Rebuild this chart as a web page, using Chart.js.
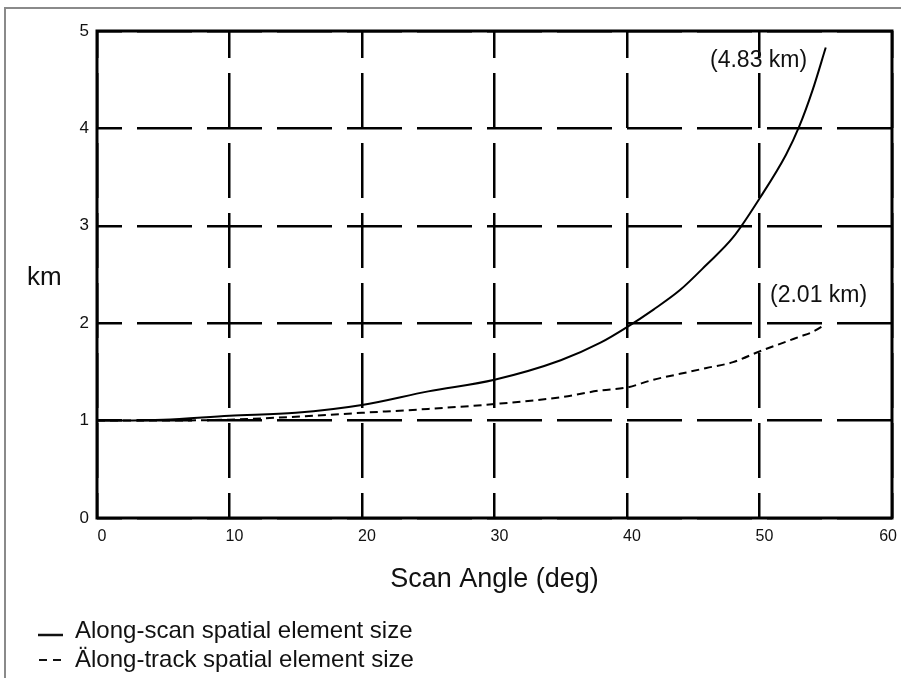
<!DOCTYPE html>
<html>
<head>
<meta charset="utf-8">
<script src="https://cdn.jsdelivr.net/npm/chart.js@4.4.1/dist/chart.umd.min.js"></script>
<style>
    html, body { margin: 0; padding: 0; background: #fff; }
    #contenedor { width: 901px; height: 678px; position: relative; }
</style>
</head>
<body>
<div id="contenedor"><canvas id="graficoEscaneo"></canvas></div>
<script>

// angulo de escaneo (grados)
const angulos = [0, 5, 10, 15, 20, 25, 30, 35, 38, 40, 42, 44, 46, 48, 50, 52, 53, 54, 55];

// tamano along-scan (km)
const alongScan = [1.00, 1.01, 1.05, 1.08, 1.16, 1.30, 1.42, 1.62, 1.80, 1.96, 2.14, 2.34, 2.60, 2.88, 3.28, 3.73, 4.02, 4.39, 4.83];

// tamano along-track (km)
const alongTrack = [1.00, 1.00, 1.01, 1.04, 1.08, 1.12, 1.17, 1.24, 1.31, 1.34, 1.42, 1.48, 1.54, 1.60, 1.71, 1.81, 1.86, 1.91, 1.99];

// etiquetas de los ejes
const etiquetasX = ["0", "10", "20", "30", "40", "50", "60"];
const etiquetasY = ["0", "1", "2", "3", "4", "5"];

const nombresSeries = ["Along-scan spatial element size", "Älong-track spatial element size"];
const notas = ["(4.83 km)", "(2.01 km)"];

const fuente = "'Liberation Sans', Arial, sans-serif";
Chart.defaults.font.family = fuente;

// textos y marco que no da la libreria
const extras = {
    id: "extras",
    beforeDraw(chart) {
        const ctx = chart.ctx;
        ctx.save();
        ctx.strokeStyle = "#8a8a8a";
        ctx.lineWidth = 2;
        ctx.beginPath();
        ctx.moveTo(5, 678);
        ctx.lineTo(5, 8);
        ctx.lineTo(901, 8);
        ctx.stroke();
        ctx.restore();
    },
    afterDraw(chart) {
        const ctx = chart.ctx;
        const a = chart.chartArea;
        ctx.save();

        // marco del area
        ctx.strokeStyle = "#000";
        ctx.lineWidth = 3;
        ctx.strokeRect(a.left, a.top, a.right - a.left, a.bottom - a.top);

        ctx.fillStyle = "#111";
        ctx.textBaseline = "alphabetic";
        ctx.textAlign = "left";

        // titulo eje y
        ctx.font = "26px " + fuente;
        ctx.fillText("km", 27, 285);

        // notas
        ctx.font = "23px " + fuente;
        ctx.fillText(notas[0], 710, 67);
        ctx.fillText(notas[1], 770, 302);

        // leyenda
        ctx.font = "24px " + fuente;
        ctx.fillText(nombresSeries[0], 75, 638);
        ctx.fillText(nombresSeries[1], 75, 667);

        ctx.strokeStyle = "#111";
        ctx.lineWidth = 2.5;
        ctx.beginPath();
        ctx.moveTo(38, 635);
        ctx.lineTo(63, 635);
        ctx.stroke();

        ctx.lineWidth = 2;
        ctx.setLineDash([8, 6]);
        ctx.beginPath();
        ctx.moveTo(39, 660);
        ctx.lineTo(61, 660);
        ctx.stroke();

        ctx.restore();
    }
};

const ctx = document.getElementById("graficoEscaneo").getContext("2d");

new Chart(ctx, {

    type: "line",

    data: {
        labels: angulos,
        datasets: [
            {
                label: nombresSeries[0],
                data: alongScan,
                borderColor: "#000",
                borderWidth: 2,
                pointRadius: 0,
                cubicInterpolationMode: "monotone"
            },
            {
                label: nombresSeries[1],
                data: alongTrack,
                borderColor: "#000",
                borderWidth: 2,
                borderDash: [8, 5],
                pointRadius: 0,
                cubicInterpolationMode: "monotone"
            }
        ]
    },

    options: {
        responsive: true,
        maintainAspectRatio: false,
        animation: false,
        layout: {
            padding: { left: 0, top: 31, right: 9, bottom: 0 }
        },
        plugins: {
            legend: { display: false },
            tooltip: { enabled: false }
        },
        scales: {
            x: {
                type: "linear",
                min: 0,
                max: 60,
                afterBuildTicks: (escala) => {
                    escala.ticks = etiquetasX.map(v => ({ value: Number(v) }));
                },
                afterFit: (escala) => {
                    escala.height = 160;
                    escala.paddingLeft = 0;
                    escala.paddingRight = 0;
                },
                ticks: {
                    color: "#111",
                    font: { size: 16 },
                    padding: 9,
                    labelOffset: 5,
                    maxRotation: 0,
                    autoSkip: false,
                    callback: (v, i) => i === etiquetasX.length - 1 ? etiquetasX[i] + "    " : etiquetasX[i]
                },
                grid: {
                    color: "#000",
                    lineWidth: 2.5,
                    drawTicks: false
                },
                border: { display: false, dash: [55, 15], dashOffset: 28 },
                title: {
                    display: true,
                    text: "Scan Angle (deg)",
                    color: "#111",
                    font: { size: 27 },
                    padding: { top: 0, bottom: 82 }
                }
            },
            y: {
                min: 0,
                max: 5,
                afterBuildTicks: (escala) => {
                    escala.ticks = etiquetasY.map(v => ({ value: Number(v) }));
                },
                afterFit: (escala) => {
                    escala.width = 97;
                    escala.paddingTop = 0;
                    escala.paddingBottom = 0;
                },
                ticks: {
                    color: "#111",
                    font: { size: 17 },
                    padding: 8,
                    callback: (v, i) => etiquetasY[i]
                },
                grid: {
                    color: "#000",
                    lineWidth: 2.5,
                    drawTicks: false
                },
                border: { display: false, dash: [55, 15], dashOffset: 30 }
            }
        }
    },

    plugins: [extras]
});

</script>
</body>
</html>
